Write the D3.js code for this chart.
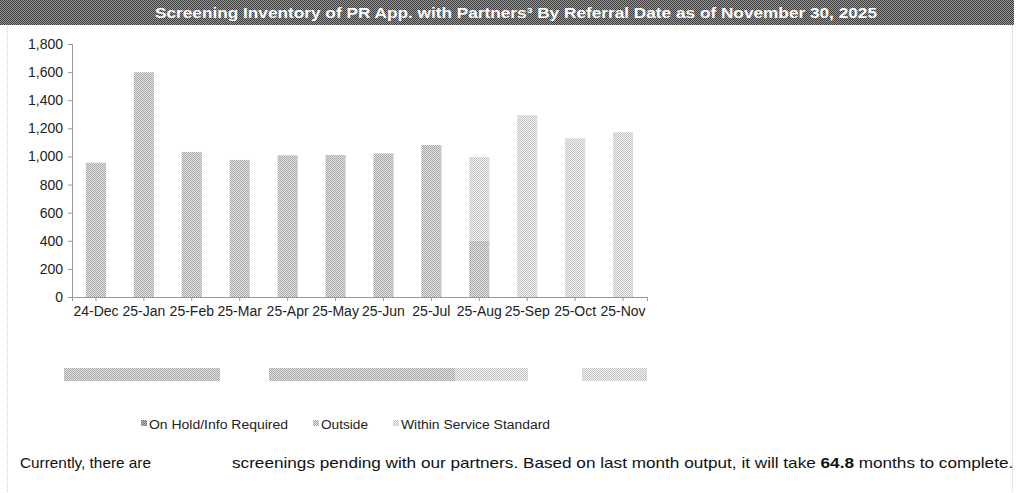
<!DOCTYPE html>
<html>
<head>
<meta charset="utf-8">
<script src="https://cdn.jsdelivr.net/npm/d3@7"></script>
<style>
  body { margin: 0; background: #fff; font-family: "Liberation Sans", Arial, sans-serif; }
</style>
</head>
<body>
<div id="vis"></div>
<script>
// data
const months = ['24-Dec', '25-Jan', '25-Feb', '25-Mar', '25-Apr', '25-May', '25-Jun', '25-Jul', '25-Aug', '25-Sep', '25-Oct', '25-Nov']
const onHold = [0, 0, 0, 0, 0, 0, 0, 0, 0, 0, 0, 0]
const outside = [955, 1599, 1032, 975, 1008, 1010, 1022, 1081, 401, 0, 0, 0]
const within = [0, 0, 0, 0, 0, 0, 0, 0, 595, 1293, 1129, 1172]
const yTicks = [0, 200, 400, 600, 800, 1000, 1200, 1400, 1600, 1800]
const seriesNames = ['On Hold/Info Required', 'Outside', 'Within Service Standard']

// odd summary strip under the chart (widths in strip units, null = blank)
const stripWidths = [156, 49, 186, 73, 54, 65]
const stripKinds = ['outside', null, 'outside', 'within', null, 'within']

const titleText = 'Screening Inventory of PR App. with Partners³ By Referral Date as of November 30, 2025'

const W = 1023, H = 493
const margin = { left: 72, top: 44, right: 376, bottom: 196 }

const svg = d3.select('#vis').append('svg')
  .attr('width', W).attr('height', H)

// dithered fills like the scanned original
const defs = svg.append('defs')
function dither(id, dark, light) {
  const p = defs.append('pattern').attr('id', id)
    .attr('width', 2).attr('height', 2).attr('patternUnits', 'userSpaceOnUse')
  p.append('rect').attr('width', 2).attr('height', 2).attr('fill', light)
  p.append('rect').attr('width', 1).attr('height', 1).attr('fill', dark)
  p.append('rect').attr('x', 1).attr('y', 1).attr('width', 1).attr('height', 1).attr('fill', dark)
}
dither('onhold', '#707070', '#c0c0c0')
dither('outside', '#a6a6a6', '#e4e4e4')
dither('within', '#c4c4c4', '#f2f2f2')
dither('title', '#3a3a3a', '#9a9a9a')
const fills = { onhold: 'url(#onhold)', outside: 'url(#outside)', within: 'url(#within)' }
const keys = ['onhold', 'outside', 'within']

// title bar
svg.append('rect').attr('x', 0).attr('y', 0).attr('width', 1014).attr('height', 25)
  .attr('fill', 'url(#title)')
svg.append('text')
  .attr('x', 155).attr('y', 18)
  .attr('fill', '#fff')
  .attr('font-weight', 'bold')
  .attr('font-size', 14.5)
  .attr('textLength', 722).attr('lengthAdjust', 'spacingAndGlyphs')
  .text(titleText)

// dotted frame lines
svg.append('line').attr('x1', 7.5).attr('x2', 7.5).attr('y1', 25).attr('y2', H)
  .attr('stroke', '#ccc').attr('stroke-dasharray', '1,1')
svg.append('line').attr('x1', 1012.5).attr('x2', 1012.5).attr('y1', 25).attr('y2', H)
  .attr('stroke', '#ccc').attr('stroke-dasharray', '1,1')

const x = d3.scaleBand().domain(months)
  .range([margin.left, W - margin.right]).paddingInner(0.58).paddingOuter(0.29)
const y = d3.scaleLinear().domain([0, 1800]).range([H - margin.bottom, margin.top])

const table = months.map((m, i) => ({ month: m, onhold: onHold[i], outside: outside[i], within: within[i] }))
const stacked = d3.stack().keys(keys)(table)

svg.append('g').selectAll('g').data(stacked).join('g')
  .attr('fill', d => fills[d.key])
  .selectAll('rect').data(d => d).join('rect')
  .attr('x', d => x(d.data.month))
  .attr('width', x.bandwidth())
  .attr('y', d => y(d[1]))
  .attr('height', d => y(d[0]) - y(d[1]))

// y axis
const yAxis = svg.append('g')
  .attr('transform', `translate(${margin.left},0)`)
  .call(d3.axisLeft(y).tickValues(yTicks).tickFormat(d3.format(',')).tickSizeOuter(0).tickSize(4))
yAxis.select('.domain').attr('stroke', '#999')
yAxis.selectAll('.tick line').attr('stroke', '#999')
yAxis.selectAll('text').attr('font-size', 14).attr('fill', '#222')
  .attr('font-family', '"Liberation Sans", Arial, sans-serif').attr('dx', -2)

// x axis
const xAxis = svg.append('g')
  .attr('transform', `translate(0,${H - margin.bottom})`)
  .call(d3.axisBottom(x).tickSizeOuter(4).tickSize(4))
xAxis.select('.domain').attr('stroke', '#999')
xAxis.selectAll('.tick line').attr('stroke', '#999')
xAxis.selectAll('text').attr('font-size', 14).attr('fill', '#222')
  .attr('font-family', '"Liberation Sans", Arial, sans-serif').attr('dy', '0.85em')

// summary strip
const sx = d3.scaleLinear().domain([0, d3.sum(stripWidths)]).range([64, 647])
let acc = 0
const strip = stripWidths.map((w, i) => { const s = { start: acc, end: acc + w, kind: stripKinds[i] }; acc += w; return s })
svg.append('g').selectAll('rect').data(strip.filter(d => d.kind)).join('rect')
  .attr('x', d => sx(d.start)).attr('width', d => sx(d.end) - sx(d.start))
  .attr('y', 368).attr('height', 13)
  .attr('fill', d => fills[d.kind])

// legend
const legX = [141, 313, 393]
const legLen = [139, 47, 149]
const leg = svg.append('g').selectAll('g').data(seriesNames).join('g')
  .attr('transform', (d, i) => `translate(${legX[i]},424)`)
leg.append('rect').attr('x', 0).attr('y', -4).attr('width', 6).attr('height', 6)
  .attr('fill', (d, i) => fills[keys[i]])
leg.append('text').attr('x', 8).attr('y', 4.5)
  .attr('font-size', 12.5).attr('fill', '#222')
  .attr('textLength', (d, i) => legLen[i]).attr('lengthAdjust', 'spacingAndGlyphs')
  .text(d => d)

// footnote sentence
const note = svg.append('g').attr('font-size', 15).attr('fill', '#111')
note.append('text').attr('x', 20).attr('y', 468)
  .attr('textLength', 131).attr('lengthAdjust', 'spacingAndGlyphs')
  .text('Currently, there are')
// second part is stretched as a whole so it spans 232..1014 like the original
const g2 = note.append('g')
const t2 = g2.append('text').attr('x', 0).attr('y', 0)
t2.append('tspan').text('screenings pending with our partners. Based on last month output, it will take ')
t2.append('tspan').attr('font-weight', 'bold').text('64.8')
t2.append('tspan').text(' months to complete.')
const natural = t2.node().getComputedTextLength()
g2.attr('transform', `translate(232,468) scale(${782 / natural},1)`)
</script>
</body>
</html>
